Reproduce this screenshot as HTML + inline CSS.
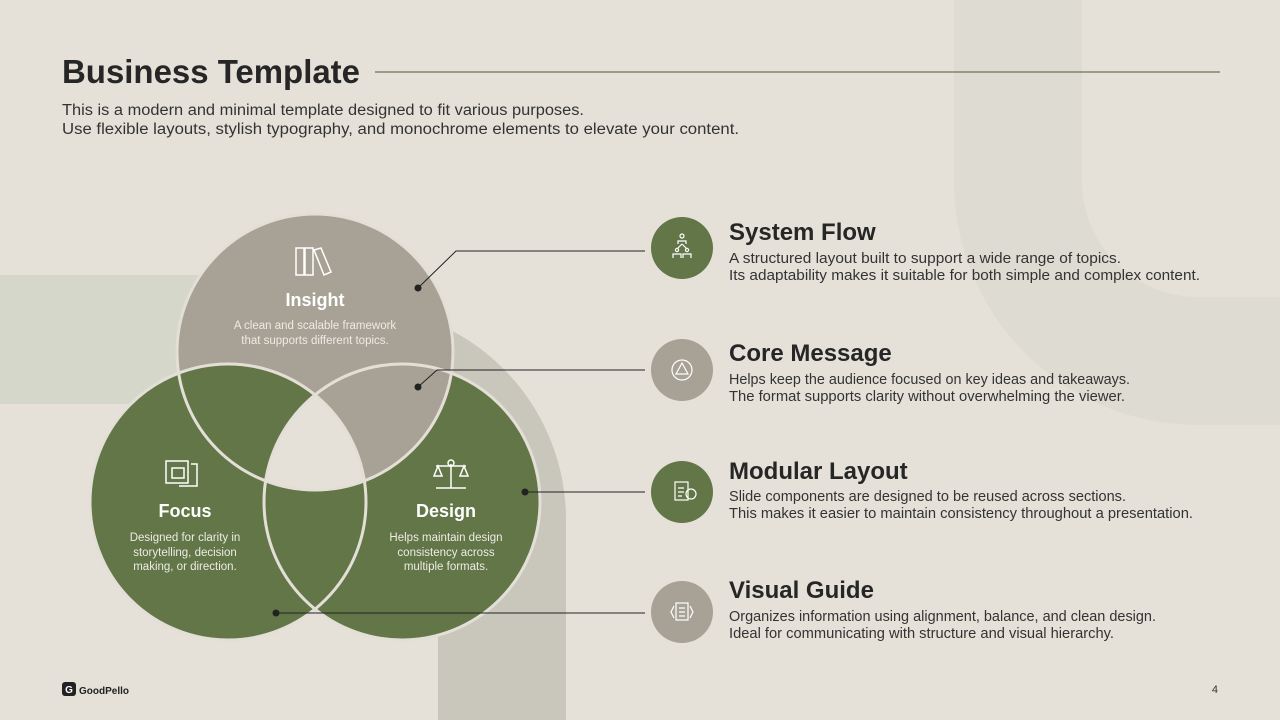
<!DOCTYPE html>
<html><head><meta charset="utf-8"><style>
html,body{margin:0;padding:0;background:#e5e1d9;}
svg{display:block;font-family:"Liberation Sans",sans-serif;}
</style></head><body>
<svg width="1280" height="720" viewBox="0 0 1280 720" xmlns="http://www.w3.org/2000/svg">
<rect width="1280" height="720" fill="#e5e1d9"/>
<!-- background shapes -->
<path d="M1018 0 V181 A180 180 0 0 0 1198 361 H1290" fill="none" stroke="#dedbd2" stroke-width="128"/>
<rect x="0" y="275" width="220" height="129" fill="#d6d7cb"/>
<path d="M502 730 V520 A150 150 0 0 0 352 370 H250" fill="none" stroke="#c9c6bc" stroke-width="128"/>

<!-- header -->
<text x="62" y="83" font-size="33" font-weight="bold" fill="#262626" textLength="298" lengthAdjust="spacingAndGlyphs">Business Template</text>
<line x1="375" y1="72" x2="1220" y2="72" stroke="#6b7458" stroke-width="1.2"/>
<text x="62" y="115" font-size="15.5" fill="#333" textLength="522" lengthAdjust="spacingAndGlyphs">This is a modern and minimal template designed to fit various purposes.</text>
<text x="62" y="134" font-size="15.5" fill="#333" textLength="677" lengthAdjust="spacingAndGlyphs">Use flexible layouts, stylish typography, and monochrome elements to elevate your content.</text>

<!-- venn -->
<circle cx="315" cy="352" r="138" fill="#a8a296"/>
<circle cx="228" cy="502" r="138" fill="#627648"/>
<circle cx="402" cy="502" r="138" fill="#627648"/>
<defs>
<clipPath id="cI"><circle cx="315" cy="352" r="138"/></clipPath>
<clipPath id="cF"><circle cx="228" cy="502" r="138"/></clipPath>
</defs>
<g clip-path="url(#cI)">
 <circle cx="402" cy="502" r="138" fill="#a8a296"/>
 <circle cx="228" cy="502" r="138" fill="#627648"/>
 <g clip-path="url(#cF)"><circle cx="402" cy="502" r="138" fill="#e5e1d9"/></g>
</g>
<g fill="none" stroke="#e4dfd6" stroke-width="3">
<circle cx="315" cy="352" r="138"/>
<circle cx="228" cy="502" r="138"/>
<circle cx="402" cy="502" r="138"/>
</g>

<!-- icons in venn -->
<g stroke="#fff" stroke-width="1.5" fill="none">
 <rect x="296" y="248" width="8" height="27"/><rect x="305" y="248" width="8" height="27"/>
 <path d="M314 250 l7 -2 l10 24 l-7 3 z"/>
 <rect x="166" y="461" width="22" height="22"/><rect x="172" y="468" width="12" height="10"/>
 <path d="M191 464 h6 v22 h-18"/>
 <path d="M436 488 h30 M451 488 v-24 M436 466 h30 M438 466 l-4 10 h8 z M464 466 l-4 10 h8 z"/>
 <circle cx="451" cy="463" r="3"/>
</g>
<text x="315" y="306" font-size="18" font-weight="bold" fill="#fff" text-anchor="middle">Insight</text>
<text x="315" y="329" font-size="11.5" fill="#eeebe5" text-anchor="middle">A clean and scalable framework</text>
<text x="315" y="344" font-size="11.5" fill="#eeebe5" text-anchor="middle">that supports different topics.</text>
<text x="185" y="517" font-size="18" font-weight="bold" fill="#fff" text-anchor="middle">Focus</text>
<text x="185" y="541" font-size="11.5" fill="#eeebe5" text-anchor="middle">Designed for clarity in</text>
<text x="185" y="556" font-size="11.5" fill="#eeebe5" text-anchor="middle">storytelling, decision</text>
<text x="185" y="570" font-size="11.5" fill="#eeebe5" text-anchor="middle">making, or direction.</text>
<text x="446" y="517" font-size="18" font-weight="bold" fill="#fff" text-anchor="middle">Design</text>
<text x="446" y="541" font-size="11.5" fill="#eeebe5" text-anchor="middle">Helps maintain design</text>
<text x="446" y="556" font-size="11.5" fill="#eeebe5" text-anchor="middle">consistency across</text>
<text x="446" y="570" font-size="11.5" fill="#eeebe5" text-anchor="middle">multiple formats.</text>

<!-- connectors -->
<g stroke="#222" stroke-width="1" fill="none">
 <path d="M418 288 L456 251 H645"/>
 <path d="M418 387 L437 370 H645"/>
 <path d="M525 492 H645"/>
 <path d="M276 613 H645"/>
</g>
<g fill="#222"><circle cx="418" cy="288" r="3.5"/><circle cx="418" cy="387" r="3.5"/><circle cx="525" cy="492" r="3.5"/><circle cx="276" cy="613" r="3.5"/></g>

<!-- right list -->
<circle cx="682" cy="248" r="31" fill="#627648"/>
<circle cx="682" cy="370" r="31" fill="#a8a296"/>
<circle cx="682" cy="492" r="31" fill="#627648"/>
<circle cx="682" cy="612" r="31" fill="#a8a296"/>
<g stroke="#fff" stroke-width="1.2" fill="none">
 <circle cx="682" cy="236" r="2"/><path d="M678 244 v-3 h8 v3 M682 244 l-5 5 M682 244 l5 5"/>
 <circle cx="677" cy="250" r="1.6"/><circle cx="687" cy="250" r="1.6"/><path d="M673 258 v-4 h8 v4 M683 258 v-4 h8 v4"/>
 <circle cx="682" cy="370" r="10"/><path d="M682 363 l-6 11 h12 z"/>
 <rect x="675" y="482" width="13" height="18"/><path d="M678 488 h6 M678 492 h6 M678 496 h4"/><circle cx="691" cy="494" r="5"/>
 <rect x="676" y="603" width="12" height="17"/><path d="M679 608 h6 M679 612 h6 M679 616 h6 M674 606 l-3 6 l3 6 M690 606 l3 6 l-3 6"/>
</g>
<g fill="#262626" font-weight="bold" font-size="24">
<text x="729" y="240">System Flow</text>
<text x="729" y="361">Core Message</text>
<text x="729" y="479">Modular Layout</text>
<text x="729" y="598">Visual Guide</text>
</g>
<g fill="#333" font-size="14.5" lengthAdjust="spacingAndGlyphs">
<text x="729" y="263" textLength="392" lengthAdjust="spacingAndGlyphs">A structured layout built to support a wide range of topics.</text>
<text x="729" y="280" textLength="471" lengthAdjust="spacingAndGlyphs">Its adaptability makes it suitable for both simple and complex content.</text>
<text x="729" y="384" textLength="401" lengthAdjust="spacingAndGlyphs">Helps keep the audience focused on key ideas and takeaways.</text>
<text x="729" y="401" textLength="396" lengthAdjust="spacingAndGlyphs">The format supports clarity without overwhelming the viewer.</text>
<text x="729" y="501" textLength="397" lengthAdjust="spacingAndGlyphs">Slide components are designed to be reused across sections.</text>
<text x="729" y="518" textLength="464" lengthAdjust="spacingAndGlyphs">This makes it easier to maintain consistency throughout a presentation.</text>
<text x="729" y="621" textLength="427" lengthAdjust="spacingAndGlyphs">Organizes information using alignment, balance, and clean design.</text>
<text x="729" y="638" textLength="385" lengthAdjust="spacingAndGlyphs">Ideal for communicating with structure and visual hierarchy.</text>
</g>

<!-- footer -->
<rect x="62" y="682" width="14" height="14" rx="3" fill="#222"/>
<text x="69" y="693" font-size="10" font-weight="bold" fill="#fff" text-anchor="middle">G</text>
<text x="79" y="694" font-size="10" font-weight="bold" fill="#222">GoodPello</text>
<text x="1218" y="693" font-size="11" fill="#333" text-anchor="end">4</text>
</svg>
</body></html>
